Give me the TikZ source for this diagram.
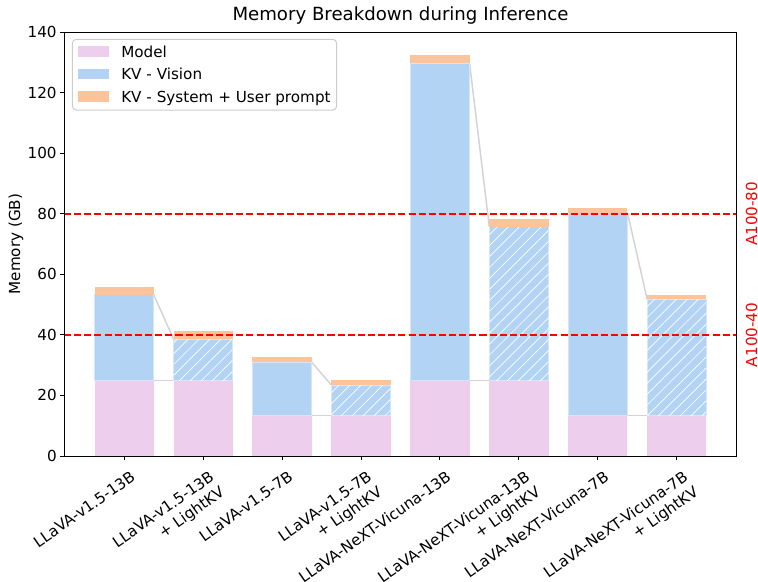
\documentclass[tikz,border=0pt]{standalone}
\usepackage{fontspec}
\setmainfont{DejaVu Sans}
\usepackage{tikz}
\usetikzlibrary{patterns.meta}
\definecolor{modelpink}{RGB}{237,207,237}
\definecolor{kvblue}{RGB}{179,211,245}
\definecolor{kvedge}{RGB}{214,230,250}
\definecolor{promptorange}{RGB}{253,196,155}
\definecolor{linkgray}{RGB}{211,211,211}
\definecolor{legendedge}{RGB}{204,204,204}

\begin{document}
\begin{tikzpicture}[x=0.75pt,y=0.75pt]
    \tikzstyle{every node}+=[inner sep=0pt, font=\fontsize{11.4}{13.7}\selectfont]
    \tikzstyle{model}=[fill=modelpink]
    \tikzstyle{vision}=[fill=kvblue, draw=kvedge, line width=0.6pt]
    \tikzstyle{light}=[vision, postaction={pattern={Lines[angle=45,distance=5.8pt,line width=0.5pt]}, pattern color=white}]
    \tikzstyle{prompt}=[fill=promptorange]
    \tikzstyle{link}=[linkgray, line width=1.1pt]
    \tikzstyle{limit}=[red, line width=1.4pt, dash pattern=on 5.3pt off 2.3pt]
    \tikzstyle{xlab}=[rotate=35, anchor=north east, align=right]
    \tikzstyle{ylab}=[anchor=east]
    \useasboundingbox (0,0) rectangle (758,-582);
    \draw (400.5,-20.7) node (title) [anchor=base, font=\fontsize{13.6}{16}\selectfont] {Memory Breakdown during Inference};
    \draw (16,-244) node (yname) [rotate=90] {Memory (GB)};
    \begin{scope}[shift={(124.2,-456)}, x=59.205pt, y=2.2714pt]
    % links between each pair
    \draw [link] (0.375,53.2) -- (0.625,38.6);
    \draw [link] (0.375,25) -- (0.625,25);
    \draw [link] (2.375,31.0) -- (2.625,23.4);
    \draw [link] (2.375,13.3) -- (2.625,13.3);
    \draw [link] (4.375,129.7) -- (4.625,75.7);
    \draw [link] (4.375,25) -- (4.625,25);
    \draw [link] (6.375,80.4) -- (6.625,51.7);
    \draw [link] (6.375,13.3) -- (6.625,13.3);
    % bars
    \fill [model] (-0.375,0) rectangle (0.375,25);
    \draw [vision] (-0.375,25) rectangle (0.375,53.2);
    \fill [prompt] (-0.375,53.2) rectangle (0.375,55.8);
    \fill [model] (0.625,0) rectangle (1.375,25);
    \draw [light] (0.625,25) rectangle (1.375,38.6);
    \fill [prompt] (0.625,38.6) rectangle (1.375,41.3);
    \fill [model] (1.625,0) rectangle (2.375,13.3);
    \draw [vision] (1.625,13.3) rectangle (2.375,31.0);
    \fill [prompt] (1.625,31.0) rectangle (2.375,32.7);
    \fill [model] (2.625,0) rectangle (3.375,13.3);
    \draw [light] (2.625,13.3) rectangle (3.375,23.4);
    \fill [prompt] (2.625,23.4) rectangle (3.375,25.1);
    \fill [model] (3.625,0) rectangle (4.375,25);
    \draw [vision] (3.625,25) rectangle (4.375,129.7);
    \fill [prompt] (3.625,129.7) rectangle (4.375,132.4);
    \fill [model] (4.625,0) rectangle (5.375,25);
    \draw [light] (4.625,25) rectangle (5.375,75.7);
    \fill [prompt] (4.625,75.7) rectangle (5.375,78.3);
    \fill [model] (5.625,0) rectangle (6.375,13.3);
    \draw [vision] (5.625,13.3) rectangle (6.375,80.4);
    \fill [prompt] (5.625,80.4) rectangle (6.375,81.8);
    \fill [model] (6.625,0) rectangle (7.375,13.3);
    \draw [light] (6.625,13.3) rectangle (7.375,51.7);
    \fill [prompt] (6.625,51.7) rectangle (7.375,53.2);
    % GPU limits
    \draw [limit] (-0.7625,40) -- (7.7625,40);
    \draw [limit] (-0.7625,80) -- (7.7625,80);
    % axes
    \draw [black, line width=0.75pt] (-0.7625,0) rectangle (7.7625,140);
    \draw [black, line width=0.75pt] (-0.7625,0) -- +(-3.3pt,0);
    \draw [black, line width=0.75pt] (-0.7625,20) -- +(-3.3pt,0);
    \draw [black, line width=0.75pt] (-0.7625,40) -- +(-3.3pt,0);
    \draw [black, line width=0.75pt] (-0.7625,60) -- +(-3.3pt,0);
    \draw [black, line width=0.75pt] (-0.7625,80) -- +(-3.3pt,0);
    \draw [black, line width=0.75pt] (-0.7625,100) -- +(-3.3pt,0);
    \draw [black, line width=0.75pt] (-0.7625,120) -- +(-3.3pt,0);
    \draw [black, line width=0.75pt] (-0.7625,140) -- +(-3.3pt,0);
    \draw ([xshift=-5.3pt]-0.7625,0) node (y0) [ylab] {0};
    \draw ([xshift=-5.3pt]-0.7625,20) node (y20) [ylab] {20};
    \draw ([xshift=-5.3pt]-0.7625,40) node (y40) [ylab] {40};
    \draw ([xshift=-5.3pt]-0.7625,60) node (y60) [ylab] {60};
    \draw ([xshift=-5.3pt]-0.7625,80) node (y80) [ylab] {80};
    \draw ([xshift=-5.3pt]-0.7625,100) node (y100) [ylab] {100};
    \draw ([xshift=-5.3pt]-0.7625,120) node (y120) [ylab] {120};
    \draw ([xshift=-5.3pt]-0.7625,140) node (y140) [ylab] {140};
    \draw [black, line width=0.75pt] (0,0) -- +(0,-3.3pt);
    \draw [black, line width=0.75pt] (1,0) -- +(0,-3.3pt);
    \draw [black, line width=0.75pt] (2,0) -- +(0,-3.3pt);
    \draw [black, line width=0.75pt] (3,0) -- +(0,-3.3pt);
    \draw [black, line width=0.75pt] (4,0) -- +(0,-3.3pt);
    \draw [black, line width=0.75pt] (5,0) -- +(0,-3.3pt);
    \draw [black, line width=0.75pt] (6,0) -- +(0,-3.3pt);
    \draw [black, line width=0.75pt] (7,0) -- +(0,-3.3pt);
    \draw ([shift={(4.1pt,-10.5pt)}]0,0) node (x1) [xlab] {LLaVA-v1.5-13B};
    \draw ([shift={(4.1pt,-10.5pt)}]1,0) node (x2) [xlab] {LLaVA-v1.5-13B\\+ LightKV};
    \draw ([shift={(4.1pt,-10.5pt)}]2,0) node (x3) [xlab] {LLaVA-v1.5-7B};
    \draw ([shift={(4.1pt,-10.5pt)}]3,0) node (x4) [xlab] {LLaVA-v1.5-7B\\+ LightKV};
    \draw ([shift={(4.1pt,-10.5pt)}]4,0) node (x5) [xlab] {LLaVA-NeXT-Vicuna-13B};
    \draw ([shift={(4.1pt,-10.5pt)}]5,0) node (x6) [xlab] {LLaVA-NeXT-Vicuna-13B\\+ LightKV};
    \draw ([shift={(4.1pt,-10.5pt)}]6,0) node (x7) [xlab] {LLaVA-NeXT-Vicuna-7B};
    \draw ([shift={(4.1pt,-10.5pt)}]7,0) node (x8) [xlab] {LLaVA-NeXT-Vicuna-7B\\+ LightKV};
    \end{scope}
    \draw (751.7,-213.8) node (a80) [rotate=90, red] {A100-80};
    \draw (751.7,-334.9) node (a40) [rotate=90, red] {A100-40};
    % legend
    \draw [legendedge, fill=white, fill opacity=0.8, rounded corners=3pt, line width=0.75pt] (72.3,-39.3) rectangle (336.7,-110);
    \fill [model] (77.7,-46) rectangle (109,-57);
    \fill [kvblue] (77.7,-68.7) rectangle (109,-79.3);
    \fill [prompt] (77.7,-90.7) rectangle (109,-101.7);
    \draw (121,-57.3) node (lmodel) [anchor=base west] {Model};
    \draw (121,-79.8) node (lvision) [anchor=base west] {KV - Vision};
    \draw (121,-102) node (lprompt) [anchor=base west] {KV - System + User prompt};
\end{tikzpicture}
\end{document}
